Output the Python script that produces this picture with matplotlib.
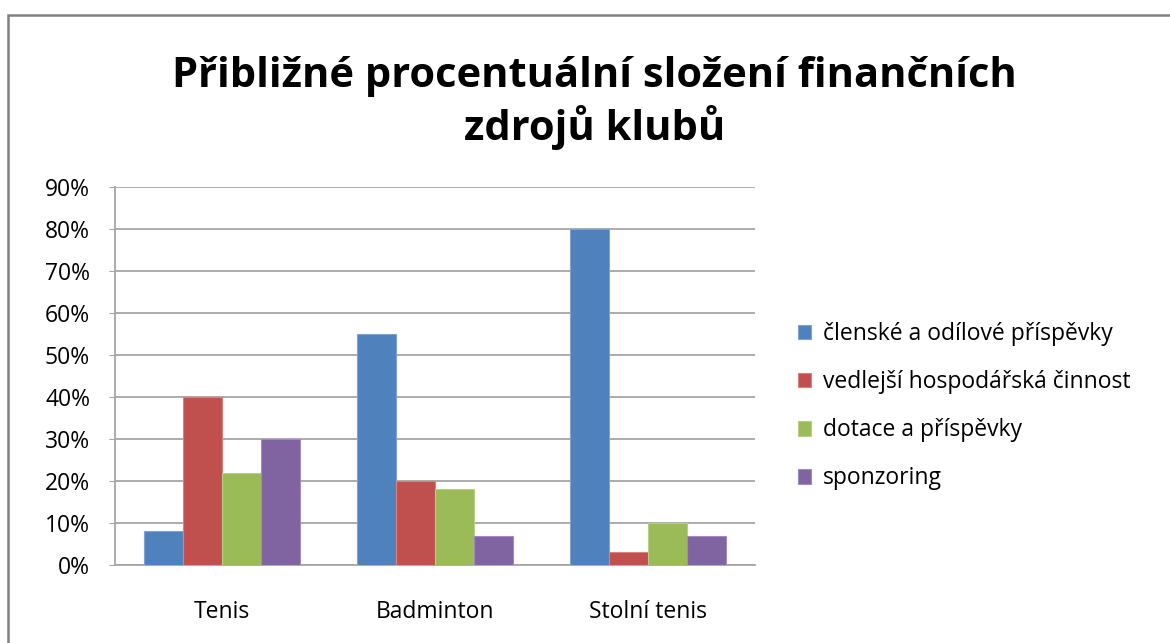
import numpy as np
import matplotlib.pyplot as plt
from matplotlib.patches import Rectangle
from matplotlib.ticker import PercentFormatter

categories = ["Tenis", "Badminton", "Stolní tenis"]
series_names = ["členské a odílové příspěvky", "vedlejší hospodářská činnost",
                "dotace a příspěvky", "sponzoring"]
clenske = [8, 55, 80]
vedlejsi = [40, 20, 3]
dotace = [22, 18, 10]
sponzoring = [30, 7, 7]
colors = ["#4F81BD", "#C0504D", "#9BBB59", "#8064A2"]
edges = ["#7FA3D3", "#D98280", "#B5CF85", "#A08BC0"]

plt.rcParams['font.family'] = ['Open Sans', 'DejaVu Sans']

fig = plt.figure(figsize=(11.7, 6.43), dpi=100)
ax = fig.add_axes([0.0983, 0.1213, 0.5467, 0.5877])

x = np.arange(len(categories))
width = 0.183
values = [clenske, vedlejsi, dotace, sponzoring]
for i, vals in enumerate(values):
    ax.bar(x + (i - 1.5) * width, vals, width, color=colors[i], edgecolor=edges[i],
           linewidth=0.8, label=series_names[i], zorder=3)

ax.set_xlim(-0.5, 2.5)
ax.set_ylim(0, 90)
ax.set_yticks(np.arange(0, 91, 10))
ax.yaxis.set_major_formatter(PercentFormatter(decimals=0))
ax.set_xticks(x)
ax.set_xticklabels(categories)
ax.grid(axis='y', color='#a6a6a6', linewidth=1.3, zorder=0)
for s in ['top', 'right']:
    ax.spines[s].set_visible(False)
for s in ['left', 'bottom']:
    ax.spines[s].set_color('#a6a6a6')
    ax.spines[s].set_linewidth(1.3)
ax.tick_params(axis='y', labelsize=16.5, length=4, color='#a6a6a6', pad=14)
ax.tick_params(axis='x', labelsize=16.5, length=0, pad=25)

fig.text(0.508, 0.84, "Přibližné procentuální složení finančních\nzdrojů klubů",
         ha='center', va='center', fontsize=30, fontweight='bold', linespacing=1.25)

ax.legend(loc='center left', bbox_to_anchor=(1.035, 0.42), frameon=False,
          fontsize=16.5, handlelength=0.6, handleheight=0.6, handletextpad=0.5,
          labelspacing=1.05)

fig.patches.append(Rectangle((8 / 1170, -0.1), 1.2, 1 - 15 / 643 + 0.1,
                             transform=fig.transFigure, fill=False,
                             edgecolor='#808080', linewidth=1.8))

fig.savefig("out.png", dpi=100, facecolor='white')
